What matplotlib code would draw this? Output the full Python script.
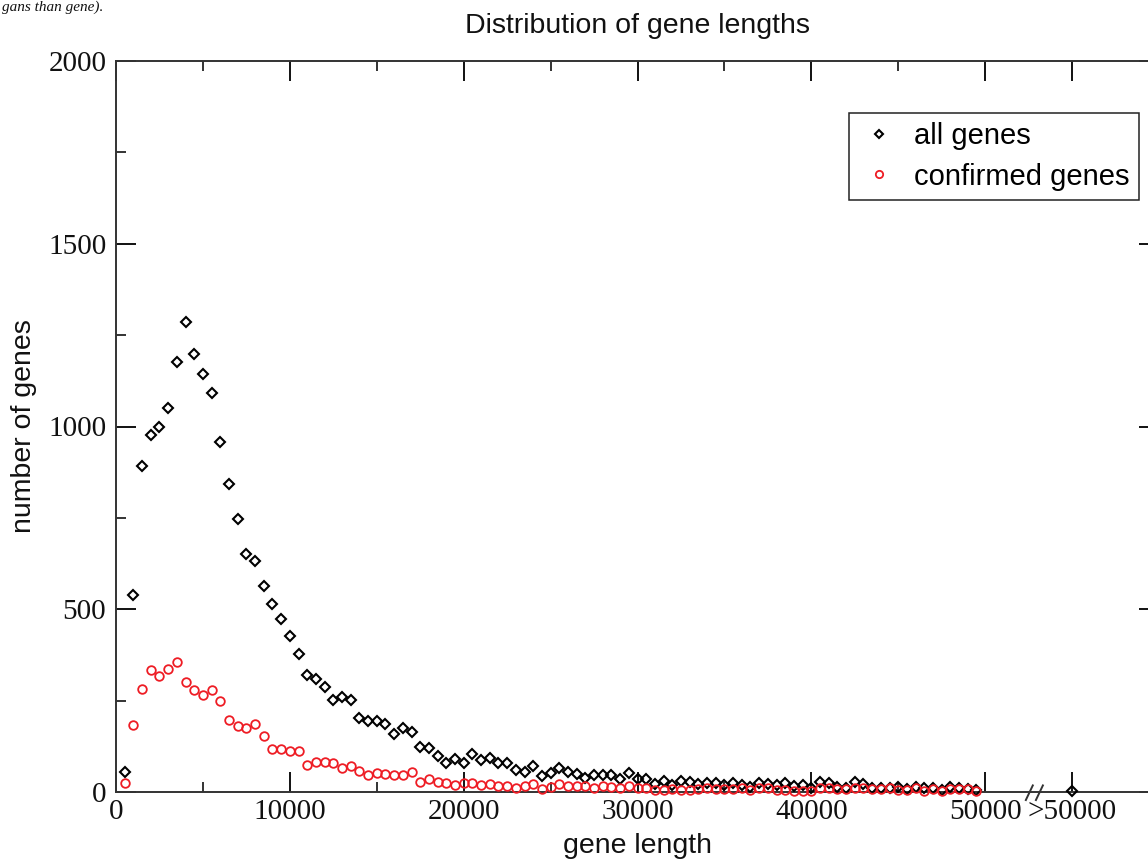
import numpy as np
import matplotlib
matplotlib.use("Agg")
import matplotlib.pyplot as plt
from matplotlib.ticker import MultipleLocator, FixedLocator

# bins of 500 bp, last bin is everything above 50000
bins = np.arange(500, 50000, 500)

all_genes = [54, 538, 892, 977, 999, 1050, 1177, 1286, 1197, 1144,
             1091, 957, 842, 746, 651, 632, 563, 514, 472, 426,
             378, 319, 310, 288, 251, 260, 253, 203, 194, 195,
             187, 160, 174, 164, 123, 120, 98, 78, 91, 80,
             105, 87, 94, 78, 78, 59, 54, 71, 45, 52,
             67, 54, 50, 39, 47, 47, 47, 36, 52, 35,
             35, 23, 30, 20, 31, 28, 22, 25, 25, 20,
             25, 20, 15, 24, 22, 20, 25, 17, 19, 10,
             26, 24, 15, 12, 26, 22, 12, 10, 12, 15,
             8, 15, 12, 12, 5, 15, 10, 8, 6]

confirmed = [25, 184, 281, 333, 317, 337, 357, 301, 278, 265,
             278, 248, 196, 181, 174, 186, 154, 119, 119, 111,
             111, 74, 83, 81, 78, 65, 70, 57, 47, 52,
             50, 47, 47, 54, 27, 36, 28, 25, 20, 24,
             24, 20, 23, 16, 17, 10, 17, 23, 9, 15,
             21, 17, 17, 17, 11, 16, 15, 11, 17, 10,
             12, 6, 6, 9, 5, 6, 8, 10, 8, 8,
             8, 10, 5, 12, 12, 6, 6, 2, 3, 2,
             10, 10, 8, 8, 10, 10, 8, 8, 10, 6,
             6, 12, 3, 8, 3, 8, 8, 8, 3]

over_x = 55000
over_all = 3

xticks = [0, 10000, 20000, 30000, 40000, 50000, 55000]
xlabels = ["0", "10000", "20000", "30000", "40000", "50000", ">50000"]
xminor = [5000, 15000, 25000, 35000, 45000]

sans = "Liberation Sans"
serif = "Liberation Serif"

fig = plt.figure(figsize=(11.48, 8.59), dpi=100)
ax = fig.add_axes([116 / 1148, 1 - 792 / 859, (1159 - 116) / 1148, (792 - 61) / 859])

ax.plot(bins, all_genes, ls="none", marker="D", ms=4.6, mfc="none",
        mec="black", mew=1.5, label="all genes", clip_on=False, zorder=3)
ax.plot(bins, confirmed, ls="none", marker="o", ms=6.2, mfc="none",
        mec="#ee1c24", mew=1.3, label="confirmed genes", clip_on=False, zorder=3)
ax.plot([over_x], [over_all], ls="none", marker="D", ms=4.6, mfc="none",
        mec="black", mew=1.5, clip_on=False, zorder=3)

ax.set_xlim(0, 60000)
ax.set_ylim(0, 2000)

ax.xaxis.set_major_locator(FixedLocator(xticks))
ax.set_xticklabels(xlabels)
ax.xaxis.set_minor_locator(FixedLocator(xminor))
ax.yaxis.set_major_locator(MultipleLocator(500))
ax.yaxis.set_minor_locator(MultipleLocator(250))

ax.tick_params(which="both", direction="in", top=True, right=True,
               width=1.4, color="#333333")
ax.tick_params(which="major", length=14.5, labelsize=21,
               labelfontfamily=serif, colors="#111111")
ax.tick_params(which="minor", length=7.2)
ax.tick_params(axis="x", which="major", pad=5)
ax.tick_params(axis="y", which="major", pad=7)
for sp in ax.spines.values():
    sp.set_linewidth(1.4)
    sp.set_color("#333333")

# axis break marks between 50000 and >50000
for bx in (52540, 53120):
    ax.plot([bx - 200, bx + 200], [-0.011, 0.009], color="#333333", lw=1.4,
            transform=ax.get_xaxis_transform(), clip_on=False)

ax.set_title("Distribution of gene lengths", fontsize=20.5, family=sans,
             pad=20, color="#111111")
ax.set_xlabel("gene length", fontsize=20.5, family=sans, labelpad=6, color="#111111")
ax.set_ylabel("number of genes", fontsize=20.5, family=sans, labelpad=8, color="#111111")

leg = ax.legend(loc="upper right", bbox_to_anchor=(1139 / 1148, 1 - 113 / 859),
                bbox_transform=fig.transFigure, borderaxespad=0,
                prop={"family": sans, "size": 21}, numpoints=1,
                handlelength=1.4, handletextpad=0.5, borderpad=0.32,
                labelspacing=0.42, fancybox=False, framealpha=1,
                markerscale=0.85)
leg.get_frame().set_edgecolor("#222222")
leg.get_frame().set_linewidth(1.1)

# line of surrounding text at the top left corner
fig.text(0.002, 0.999, "gans than gene).", fontsize=11, family=serif,
         style="italic", va="top", ha="left", color="#111111")

fig.savefig("out.png", dpi=100)
